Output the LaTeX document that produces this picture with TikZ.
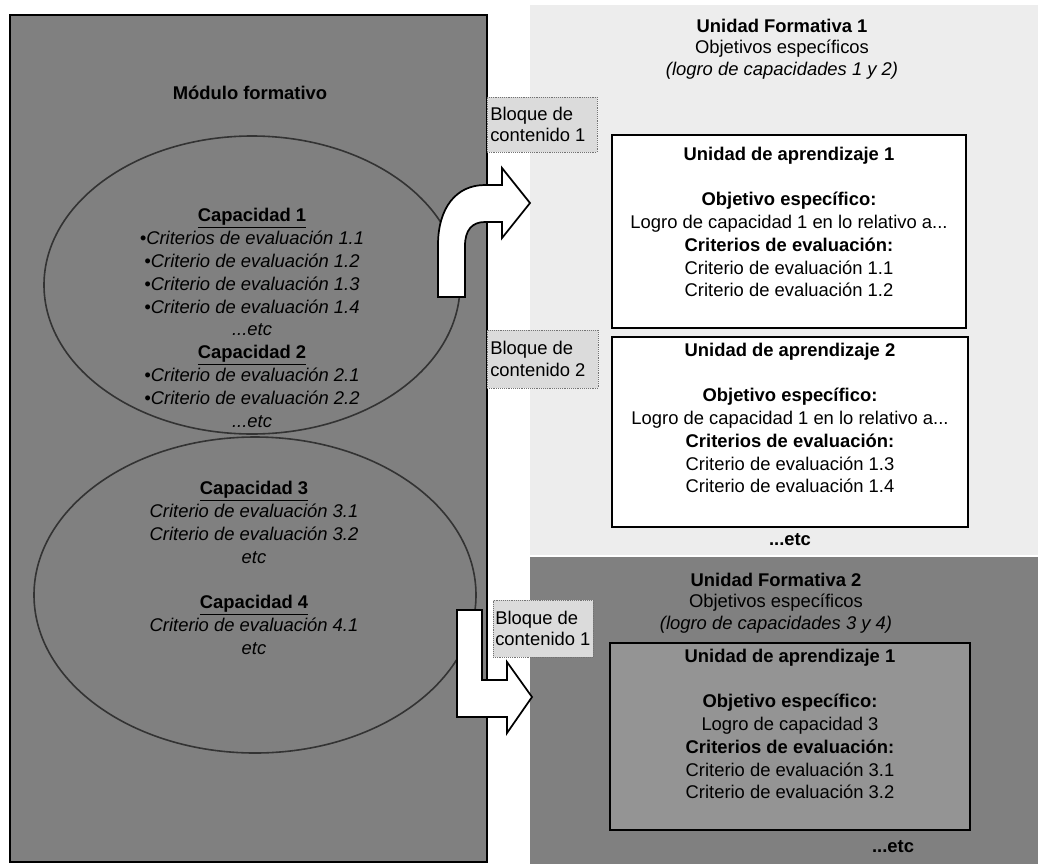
\documentclass[tikz,border=0pt]{standalone}
\usepackage{fontspec}
\setmainfont{Liberation Sans}
\usetikzlibrary{fit}
\begin{document}
\begin{tikzpicture}[x=0.75pt,y=-0.75pt,
  body/.style={font=\fontsize{13.8}{17.1}\selectfont, align=center, inner sep=0pt},
  head/.style={font=\fontsize{13.8}{16}\selectfont, align=center, inner sep=0pt},
  darkzone/.style={fill=black!50, draw=none},
  lightzone/.style={fill=black!7, draw=none},
  module/.style={fill=black!50, draw=black, line width=1.3pt, inner sep=0pt},
  capring/.style={draw=black!80, line width=1.2pt},
  uabox/.style={draw=black, line width=1.3pt, fill=white, inner sep=0pt},
  uadark/.style={draw=black, line width=1.3pt, fill=black!42, inner sep=0pt},
  bloque/.style={draw=black!55, densely dotted, fill=black!14, inner sep=0pt},
  bloquetxt/.style={font=\fontsize{13.8}{16}\selectfont, align=left, inner sep=0pt, anchor=west},
  blockarrow/.style={fill=white, draw=black, line width=1.3pt, line join=miter}
]
\useasboundingbox (0,0) rectangle (1038,864);

% background zones of the two training units
\node[lightzone, fit={(530,5) (1038,555)}, inner sep=0pt] (uf1zone) {};
\node[darkzone, fit={(530,557) (1038,864)}, inner sep=0pt] (uf2zone) {};

% training module panel
\node[module, fit={(10,15) (487,862)}] (mod) {};
\node[font=\fontsize{13.8}{16}\selectfont\bfseries, inner sep=0pt] (modtitle) at (250,93) {Módulo formativo};

% groups of capacities
\draw[capring] (252,285) ellipse [x radius=208, y radius=149];
\draw[capring] (255,595) ellipse [x radius=221, y radius=158];

\node[body] (cap12) at (252,318) {%
  \underline{\textbf{Capacidad 1}}\\
  \textit{•Criterios de evaluación 1.1}\\
  \textit{•Criterio de evaluación 1.2}\\
  \textit{•Criterio de evaluación 1.3}\\
  \textit{•Criterio de evaluación 1.4}\\
  \textit{...etc}\\
  \underline{\textbf{Capacidad 2}}\\
  \textit{•Criterio de evaluación 2.1}\\
  \textit{•Criterio de evaluación 2.2}\\
  \textit{...etc}};

\node[body] (cap34) at (254,568) {%
  \underline{\textbf{Capacidad 3}}\\
  \textit{Criterio de evaluación 3.1}\\
  \textit{Criterio de evaluación 3.2}\\
  \textit{etc}\\
  \mbox{}\\
  \underline{\textbf{Capacidad 4}}\\
  \textit{Criterio de evaluación 4.1}\\
  \textit{etc}};

% training unit 1
\node[head] (uf1head) at (782,49) {%
  \textbf{Unidad Formativa 1}\\
  Objetivos específicos\\
  \textit{(logro de capacidades 1 y 2)}};

\node[uabox, fit={(612,135) (966,328)}] (ua1) {};
\node[body] (ua1txt) at (789,222) {%
  \textbf{Unidad de aprendizaje 1}\\
  \mbox{}\\
  \textbf{Objetivo específico:}\\
  Logro de capacidad 1 en lo relativo a...\\
  \textbf{Criterios de evaluación:}\\
  Criterio de evaluación 1.1\\
  Criterio de evaluación 1.2};

\node[uabox, fit={(612,337) (968,527)}] (ua2) {};
\node[body] (ua2txt) at (790,418) {%
  \textbf{Unidad de aprendizaje 2}\\
  \mbox{}\\
  \textbf{Objetivo específico:}\\
  Logro de capacidad 1 en lo relativo a...\\
  \textbf{Criterios de evaluación:}\\
  Criterio de evaluación 1.3\\
  Criterio de evaluación 1.4};

\node[font=\fontsize{13.8}{16}\selectfont\bfseries, inner sep=0pt] (uf1etc) at (790,540) {...etc};

% training unit 2
\node[head] (uf2head) at (776,603) {%
  \textbf{Unidad Formativa 2}\\
  Objetivos específicos\\
  \textit{(logro de capacidades 3 y 4)}};

\node[uadark, fit={(610,643) (970,830)}] (ua3) {};
\node[body] (ua3txt) at (790,724) {%
  \textbf{Unidad de aprendizaje 1}\\
  \mbox{}\\
  \textbf{Objetivo específico:}\\
  Logro de capacidad 3\\
  \textbf{Criterios de evaluación:}\\
  Criterio de evaluación 3.1\\
  Criterio de evaluación 3.2};

\node[font=\fontsize{13.8}{16}\selectfont\bfseries, inner sep=0pt] (uf2etc) at (893,847) {...etc};

% content block labels
\node[bloque, fit={(487,97) (597,152)}] (blq1) {};
\node[bloquetxt] (blq1txt) at (490,124.5) {Bloque de\\contenido 1};

\node[bloque, fit={(487,330) (598,388)}] (blq2) {};
\node[bloquetxt] (blq2txt) at (490,359) {Bloque de\\contenido 2};

\node[bloque, fit={(493,600) (593,657)}] (blq3) {};
\node[bloquetxt] (blq3txt) at (495,628.5) {Bloque de\\contenido 1};

% block arrows from the module to the training units
\coordinate (a1base) at (438,297);
\coordinate (a1tip) at (530,203);
\draw[blockarrow] (a1base) -- (438,245)
  .. controls (438,208) and (456,185) .. (485,185)
  -- (502,185) -- (502,168) -- (a1tip) -- (502,238) -- (502,222) -- (485,222)
  .. controls (472,222) and (465,230) .. (465,246)
  -- (465,297) -- cycle;

\coordinate (a2base) at (457,610);
\coordinate (a2tip) at (532,697);
\draw[blockarrow] (a2base) -- (482,610) -- (482,680) -- (507,680) -- (507,662)
  -- (a2tip) -- (507,733) -- (507,717) -- (457,717) -- cycle;
\end{tikzpicture}
\end{document}
